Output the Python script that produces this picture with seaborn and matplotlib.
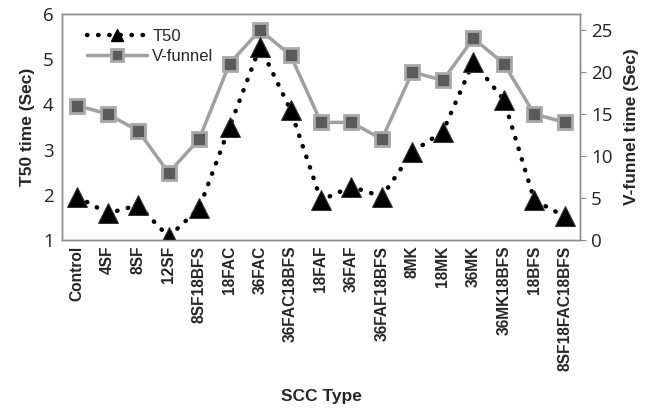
import numpy as np
import pandas as pd
import matplotlib
matplotlib.use("Agg")
import matplotlib.pyplot as plt
import seaborn as sns
from matplotlib.lines import Line2D

categories = ["Control", "4SF", "8SF", "12SF", "8SF18BFS", "18FAC", "36FAC", "36FAC18BFS",
              "18FAF", "36FAF", "36FAF18BFS", "8MK", "18MK", "36MK", "36MK18BFS", "18BFS",
              "8SF18FAC18BFS"]
t50 = [1.96, 1.59, 1.77, 1.07, 1.70, 3.50, 5.28, 3.88, 1.88, 2.18, 1.96, 2.95, 3.40, 4.94, 4.10, 1.88, 1.52]
vfunnel = [16, 15, 13, 8, 12, 21, 25, 22, 14, 14, 12, 20, 19, 24, 21, 15, 14]

sns.set_style("white")
plt.rcParams['font.family'] = ['Liberation Sans', 'DejaVu Sans']

df = pd.DataFrame({"pos": np.arange(len(categories)), "SCC": categories,
                   "T50": t50, "V-funnel": vfunnel})

fig = plt.figure(figsize=(6.46, 4.09), dpi=100)
ax = fig.add_axes([62/646, 1-240/409, (580-62)/646, (240-14)/409])
ax2 = ax.twinx()

sns.lineplot(data=df, x="pos", y="V-funnel", ax=ax2, color="#a0a0a0", linewidth=2.5,
             marker="s", markersize=10, markerfacecolor="#5a5a5a", markeredgecolor="#a8a8a8",
             markeredgewidth=2, legend=False)
sns.lineplot(data=df, x="pos", y="T50", ax=ax, color="black", linewidth=3.2,
             linestyle=(0, (0.1, 2.4)),
             marker="^", markersize=14, markerfacecolor="black", markeredgecolor="#333333",
             legend=False)
ax.set_zorder(ax2.get_zorder() + 1)
ax.patch.set_visible(False)
for l in ax.lines:
    l.set_dash_capstyle("round")

n = len(categories)
ax.set_xlim(-0.5, n - 0.5)
ax.set_ylim(1, 6)
ax2.set_ylim(0, 26.9)
ax.set_yticks([1, 2, 3, 4, 5, 6])
ax2.set_yticks([0, 5, 10, 15, 20, 25])

ax.set_xticks(np.arange(-0.5, n, 1.0))
ax.set_xticklabels([])
ax.set_xticks(np.arange(n), minor=True)
ax.set_xticklabels(categories, minor=True, rotation=90, fontsize=11.2, fontweight="bold")
ax.tick_params(axis="x", which="major", length=4, color="#888888", direction="out")
ax.tick_params(axis="x", which="minor", length=0, pad=4)
ax.tick_params(axis="y", labelsize=13.5, length=0, pad=6)
ax2.tick_params(axis="y", labelsize=13.5, length=4, color="#888888", direction="out", pad=4)
for t in ax.get_yticklabels() + ax2.get_yticklabels():
    t.set_family(["Open Sans", "DejaVu Sans"])
    t.set_color("#222222")

for a in (ax, ax2):
    for s in a.spines.values():
        s.set_color("#8c8c8c")
        s.set_linewidth(1.0)

ax.set_xlabel("SCC Type", fontsize=12.5, fontweight="bold", labelpad=13)
ax.set_ylabel("T50 time (Sec)", fontsize=12.5, fontweight="bold", labelpad=6)
ax2.set_ylabel("V-funnel time (Sec)", fontsize=12.5, fontweight="bold", labelpad=8)

handles = [Line2D([], [], color="black", linewidth=3.2, linestyle=(0, (0.1, 2.4)),
                  dash_capstyle="round", marker="^", markersize=9, markerfacecolor="black"),
           Line2D([], [], color="#a0a0a0", linewidth=2.5, marker="s", markersize=9,
                  markerfacecolor="#5a5a5a", markeredgecolor="#a8a8a8", markeredgewidth=2)]
leg = ax.legend(handles, ["T50", "V-funnel"], loc="upper left", bbox_to_anchor=(0.02, 1.0),
                frameon=False, fontsize=12, handlelength=3.6, handletextpad=0.3, labelspacing=0.3)

fig.savefig("out.png", dpi=100)
